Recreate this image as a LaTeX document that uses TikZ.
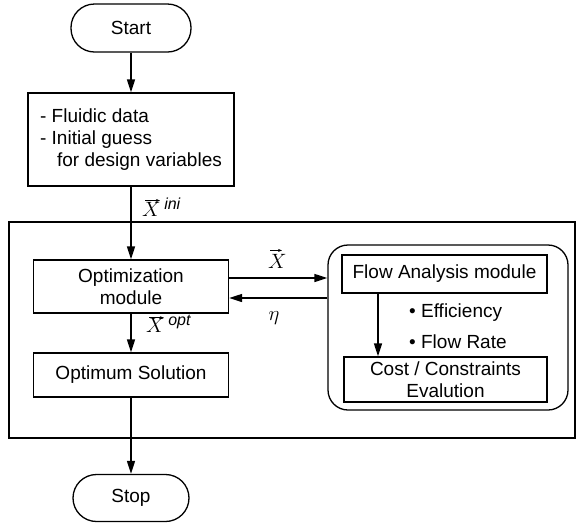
\documentclass[tikz,border=0pt]{standalone}
\usepackage{graphicx}
\usepackage{fontspec}
\setmainfont{Liberation Sans}
\usetikzlibrary{arrows.meta,calc}

% enlarged math label
\newcommand{\bigmath}[1]{\scalebox{1.2}{$#1$}}

\tikzset{
  x=1pt, y=-1pt,
  txt/.style={font=\fontsize{19}{22}\selectfont},
  blk/.style={draw, line width=1.3pt, inner sep=0pt, txt, align=center},
  term/.style={blk, rounded corners=23.5pt},
  frame/.style={draw, line width=1.1pt, inner sep=0pt},
  arr/.style={line width=1.4pt, -{Triangle[length=13pt,width=8pt]}},
  vecarr/.style={line width=0.6pt, -{Stealth[length=4pt,width=3pt]}},
  lbl/.style={inner sep=0pt, font=\fontsize{19}{22}\selectfont},
}

\begin{document}
\begin{tikzpicture}
\useasboundingbox (0,0) rectangle (584,523);

% outer loop frame and the analysis sub-system
\node[frame, minimum width=566pt, minimum height=216pt] (loop) at (292,330) {};
\node[frame, line width=1.3pt, rounded corners=20pt, minimum width=240pt, minimum height=165pt] (sub) at (448,327.5) {};

% flow chart blocks
\node[term, minimum width=120pt, minimum height=48pt] (start) at (131,28) {Start};
\node[blk, minimum width=206pt, minimum height=93pt, align=left] (input) at (131,139.5)
  {- Fluidic data\\- Initial guess\\\hspace*{17pt}for design variables};
\node[blk, minimum width=195pt, minimum height=53pt] (opt) at (131,286.5) {Optimization\\module};
\node[blk, minimum width=195pt, minimum height=44pt] (sol) at (131,375) {Optimum Solution};
\node[term, minimum width=116pt, minimum height=47pt] (stop) at (131,498) {Stop};

\node[blk, minimum width=205pt, minimum height=38pt] (flow) at (444.5,274) {Flow Analysis module};
\node[blk, minimum width=203pt, minimum height=45pt] (cost) at (445.5,379.5) {Cost / Constraints\\Evalution};

% main path
\draw[arr] (start) -- (input);
\draw[arr] (input.south) -- (input.south |- opt.north);
\draw[arr] (opt.south) -- (opt.south |- sol.north);
\draw[arr] (sol.south) -- (sol.south |- stop.north);

% exchange with the analysis sub-system
\draw[arr] ([yshift=8.5pt]opt.east) coordinate (xo) -- (xo -| sub.west);
\draw[arr] ([yshift=-11.5pt]opt.east -| sub.west) coordinate (eo) -- (eo -| opt.east);
\draw[arr] ([xshift=-66.5pt]flow.south) coordinate (fo) -- (fo |- cost.north);

% design-variable vectors: letter plus a drawn vector arrow above it
\node[lbl, anchor=south west] (xini) at (142,217) {\bigmath{X^{\hspace{3pt}\mathit{ini}}}};
\draw[vecarr] ([xshift=3pt,yshift=-3pt]xini.north west) -- ++(15,0);
\node[lbl, anchor=south west] (xopt) at (146,333) {\bigmath{X^{\hspace{3pt}\mathit{opt}}}};
\draw[vecarr] ([xshift=3pt,yshift=-3pt]xopt.north west) -- ++(15,0);
\node[lbl, anchor=south west] (xbar) at (268,269) {\bigmath{X}};
\draw[vecarr] ([xshift=2pt,yshift=4pt]xbar.north west) -- ++(12,0);

\node[lbl] (eta) at (274,318) {\bigmath{\eta}};
\node[lbl, anchor=west] (eff) at (409,313) {\textbullet\ Efficiency};
\node[lbl, anchor=west] (rate) at (409,342) {\textbullet\ Flow Rate};
\end{tikzpicture}
\end{document}
